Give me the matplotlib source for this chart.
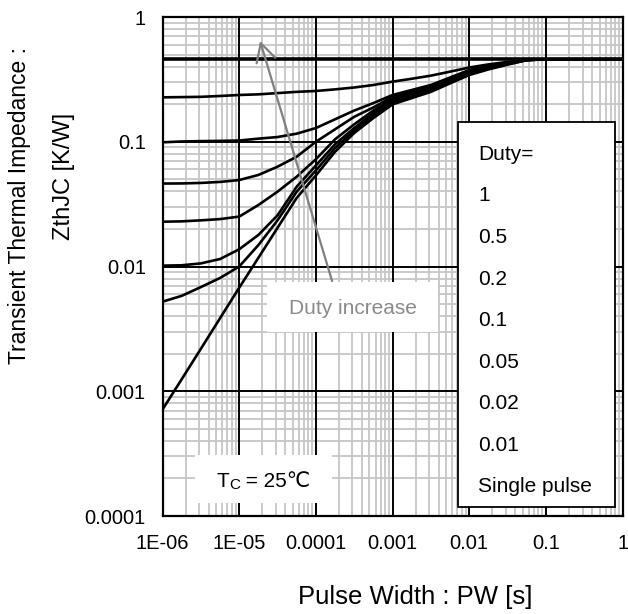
import numpy as np
import matplotlib
matplotlib.use('Agg')
import matplotlib.pyplot as plt
from matplotlib.patches import Rectangle

plt.rcParams['font.family'] = ['Liberation Sans', 'DejaVu Sans']

# pulse width [s], quarter-decade steps
pw = [1e-6, 1.78e-6, 3.16e-6, 5.62e-6, 1e-5, 1.78e-5, 3.16e-5, 5.62e-5,
      1e-4, 1.78e-4, 3.16e-4, 5.62e-4, 1e-3, 1.78e-3, 3.16e-3, 5.62e-3,
      1e-2, 1.78e-2, 3.16e-2, 5.62e-2, 1e-1, 1]

# ZthJC [K/W]
z_d1 = [0.458] * 22
z_d05 = [0.2270, 0.2280, 0.2291, 0.2328, 0.2371, 0.2399, 0.2455, 0.2512,
         0.2553, 0.2630, 0.2723, 0.2851, 0.3034, 0.3199, 0.3388, 0.3648,
         0.3936, 0.4169, 0.4365, 0.4550, 0.458, 0.458]
z_d02 = [0.099, 0.1005, 0.1012, 0.1016, 0.1023, 0.1059, 0.1091, 0.1161,
         0.1288, 0.1514, 0.1778, 0.2042, 0.2371, 0.2600, 0.2851, 0.3273,
         0.3758, 0.4074, 0.4345, 0.4539, 0.458, 0.458]
z_d01 = [0.04624, 0.04634, 0.04677, 0.04764, 0.04932, 0.05420, 0.06310, 0.07586,
         0.1000, 0.1259, 0.1585, 0.1884, 0.2291, 0.2529, 0.2786, 0.3199,
         0.3673, 0.3999, 0.4305, 0.4529, 0.458, 0.458]
z_d005 = [0.02286, 0.02301, 0.02344, 0.02399, 0.02512, 0.03112, 0.03981, 0.05248,
          0.07244, 0.1047, 0.1380, 0.1778, 0.2213, 0.2455, 0.2692, 0.3112,
          0.3589, 0.3936, 0.4266, 0.4519, 0.458, 0.458]
z_d002 = [0.01016, 0.01023, 0.01059, 0.01148, 0.01374, 0.01791, 0.02570, 0.04365,
          0.06457, 0.09550, 0.1288, 0.1698, 0.2138, 0.2382, 0.2630, 0.3055,
          0.3532, 0.3890, 0.4227, 0.4519, 0.458, 0.458]
z_d001 = [0.005224, 0.005821, 0.006839, 0.008091, 0.0100, 0.01486, 0.02344, 0.03981,
          0.05888, 0.08913, 0.1230, 0.1622, 0.2065, 0.2312, 0.2570, 0.2999,
          0.3483, 0.3846, 0.4188, 0.4519, 0.458, 0.458]
z_single = [0.000714, 0.001250, 0.002188, 0.003846, 0.006761, 0.01175, 0.02042, 0.03548,
            0.05370, 0.08318, 0.1175, 0.1549, 0.1995, 0.2239, 0.2512, 0.2938,
            0.3428, 0.3802, 0.4150, 0.4508, 0.458, 0.458]

curves = [z_d1, z_d05, z_d02, z_d01, z_d005, z_d002, z_d001, z_single]
duty_labels = ['1', '0.5', '0.2', '0.1', '0.05', '0.02', '0.01', 'Single pulse']

xticks = [1e-6, 1e-5, 1e-4, 1e-3, 1e-2, 1e-1, 1]
xticklabels = ['1E-06', '1E-05', '0.0001', '0.001', '0.01', '0.1', '1']
yticks = [1e-4, 1e-3, 1e-2, 1e-1, 1]
yticklabels = ['0.0001', '0.001', '0.01', '0.1', '1']

fig = plt.figure(figsize=(6.28, 6.14), dpi=100)
ax = fig.add_axes([0.2588, 0.1596, 0.7326, 0.8127])

ax.set_xscale('log')
ax.set_yscale('log')
ax.set_xlim(1e-6, 1)
ax.set_ylim(1e-4, 1)

for i, z in enumerate(curves):
    lw = 2.6 if i == 0 else 1.9
    ax.plot(pw, z, color='black', lw=lw, zorder=4)

ax.set_xticks(xticks)
ax.set_xticklabels(xticklabels)
ax.set_yticks(yticks)
ax.set_yticklabels(yticklabels)
ax.tick_params(which='both', length=0, labelsize=14.5)
ax.tick_params(axis='x', pad=13)
ax.tick_params(axis='y', pad=12)

# light minor grid, black decade lines on top of it
ax.grid(which='minor', color='#c6c6c6', lw=1.3)
ax.set_axisbelow(True)
for xv in xticks:
    ax.axvline(xv, color='black', lw=1.4, zorder=1)
for yv in yticks:
    ax.axhline(yv, color='black', lw=1.4, zorder=1)
for s in ax.spines.values():
    s.set_linewidth(1.6)

# legend panel (text only)
ax.add_patch(Rectangle((0.6424, 0.018), 0.3413, 0.7716, transform=ax.transAxes,
                       facecolor='white', edgecolor='black', lw=1.3, zorder=5))
ax.text(0.686, 0.7245, 'Duty=', transform=ax.transAxes, fontsize=15,
        va='center', ha='left', zorder=6)
for i, lab in enumerate(duty_labels):
    ax.text(0.686, 0.7245 - 0.0832 * (i + 1), lab, transform=ax.transAxes,
            fontsize=15, va='center', ha='left', zorder=6)

# "Duty increase" box and arrow
ax.add_patch(Rectangle((0.2265, 0.3693), 0.3725, 0.1002, transform=ax.transAxes,
                       facecolor='white', edgecolor='none', zorder=3))
ax.text(0.413, 0.4168, 'Duty increase', transform=ax.transAxes, fontsize=15,
        color='#8a8a8a', ha='center', va='center', zorder=6)
ax.annotate('', xy=(0.212, 0.952), xycoords='axes fraction',
            xytext=(0.3685, 0.471), textcoords='axes fraction',
            arrowprops=dict(arrowstyle='->,head_length=1.3,head_width=0.7',
                            color='#808080', lw=1.6, shrinkA=0, shrinkB=0),
            zorder=6)

# Tc box
ax.add_patch(Rectangle((0.0707, 0.026), 0.2973, 0.0962, transform=ax.transAxes,
                       facecolor='white', edgecolor='none', zorder=3))
t1 = ax.text(0.1163, 0.0587, 'T', transform=ax.transAxes, fontsize=15,
             ha='left', va='baseline', zorder=6)
t2 = ax.annotate('C', xy=(1, 0), xycoords=t1, xytext=(0.5, 1),
                 textcoords='offset points', fontsize=11, ha='left',
                 va='baseline', zorder=6)
ax.annotate(' = 25\u2103', xy=(1, 0), xycoords=(t2, t1), fontsize=15,
            ha='left', va='bottom', zorder=6)

fig.text(0.6608, 0.0277, 'Pulse Width : PW [s]', fontsize=18.5,
         ha='center', va='center')
fig.text(0.0318, 0.6645, 'Transient Thermal Impedance :', fontsize=16.5,
         rotation=90, ha='center', va='center')
fig.text(0.102, 0.7134, 'ZthJC [K/W]', fontsize=17,
         rotation=90, ha='center', va='center')

fig.savefig('out.png', dpi=100)
